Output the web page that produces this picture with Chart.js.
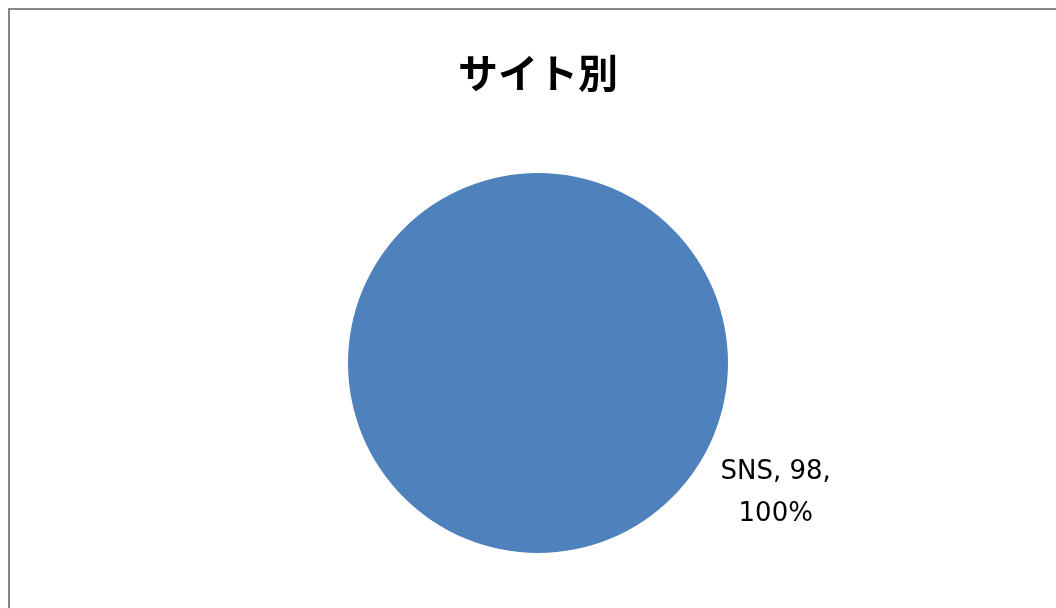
<!DOCTYPE html>
<html>
<head>
<meta charset="utf-8">
<script src="https://cdn.jsdelivr.net/npm/chart.js@4"></script>
<style>
    html, body { margin: 0; padding: 0; background: #fff; }
    #wrap { position: relative; width: 1056px; height: 608px; }
    #frame {
        position: absolute; left: 8px; top: 8px; width: 1060px; height: 610px;
        border-top: 2px solid #868686; border-left: 2px solid #868686;
        box-sizing: border-box; pointer-events: none;
    }
    canvas { position: absolute; left: 0; top: 0; }
</style>
</head>
<body>
<div id="wrap">
    <canvas id="siteChart" width="1056" height="608"></canvas>
    <div id="frame"></div>
</div>
<script>
// --- data ---
const categories = ['SNS'];
const counts = [98];
const sliceColors = ['#4F81BD'];

// draws "name, value, percent" outside the slice (lower right)
const outsideLabels = {
    id: 'outsideLabels',
    afterDatasetsDraw(chart) {
        const ctx = chart.ctx;
        const meta = chart.getDatasetMeta(0);
        const total = counts.reduce((a, b) => a + b, 0);
        meta.data.forEach(function (arc, i) {
            const pct = Math.round(counts[i] / total * 100);
            const angle = 27.5 * Math.PI / 180;
            const dist = arc.outerRadius + 78;
            const x = arc.x + Math.cos(angle) * dist;
            const y = arc.y + Math.sin(angle) * dist;
            ctx.save();
            ctx.fillStyle = '#000';
            ctx.font = '26px "DejaVu Sans", Verdana, sans-serif';
            ctx.textAlign = 'center';
            ctx.textBaseline = 'middle';
            ctx.fillText(categories[i] + ', ' + counts[i] + ',', x, y - 14);
            ctx.fillText(pct + '%', x, y + 28);
            ctx.restore();
        });
    }
};

const ctx = document.getElementById('siteChart').getContext('2d');
new Chart(ctx, {
    type: 'pie',
    data: {
        labels: categories,
        datasets: [{
            data: counts,
            backgroundColor: sliceColors,
            borderWidth: 0
        }]
    },
    options: {
        responsive: false,
        animation: false,
        layout: {
            padding: { left: 20, right: 0, top: 0, bottom: 55 }
        },
        plugins: {
            legend: { display: false },
            tooltip: { enabled: false },
            title: {
                display: true,
                text: 'サイト別',
                color: '#000',
                font: { family: '"Noto Sans CJK JP", sans-serif', size: 40, weight: 'bold', lineHeight: 1.2 },
                padding: { top: 49, bottom: 76 }
            }
        }
    },
    plugins: [outsideLabels]
});
</script>
</body>
</html>
